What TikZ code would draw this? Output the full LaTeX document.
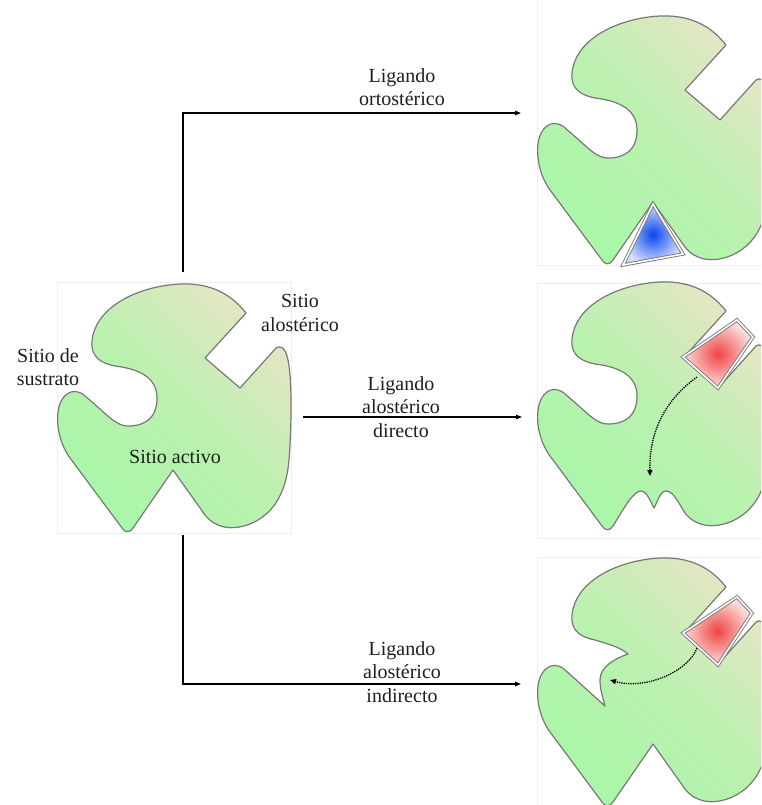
\documentclass[tikz,border=0pt]{standalone}
\usepackage{fontspec}
\setmainfont{Liberation Serif}
\usetikzlibrary{arrows.meta}

\definecolor{enzgreen}{HTML}{A9F7A9}
\definecolor{enzmid}{HTML}{BAF1AF}
\definecolor{enzbeige}{HTML}{E4E6C4}
\definecolor{outline}{HTML}{787878}
\definecolor{framegray}{HTML}{EEEEEE}
\definecolor{ligred}{HTML}{F04444}
\definecolor{ligblue}{HTML}{0A46F0}
\definecolor{ink}{HTML}{1E1E1E}

% Outline pieces of the enzyme, in pixel units (y grows downward)
\newcommand\enzLobeTop{(246,313) .. controls (228,290) and (205,283) .. (180,284)
  .. controls (140,286) and (100,305) .. (93,335)
  .. controls (89,352) and (95,362) .. (115,366)}
\newcommand\enzPocketOpen{.. controls (140,369) and (157,378) .. (157,398)
  .. controls (157,418) and (145,426) .. (128,426)
  .. controls (118,426) and (110,418) .. (100,409) -- (84,395)}
\newcommand\enzPocketPinched{.. controls (128,370) and (140,373) .. (148,380)
  .. controls (134,385) and (120,393) .. (120,406)
  .. controls (120,416) and (123,424) .. (125,432) -- (84,395)}
\newcommand\enzLeftLobe{.. controls (72,386) and (60,395) .. (58,412)
  .. controls (56,430) and (62,447) .. (70,458) -- (122,528)
  .. controls (125,533) and (130,533) .. (133,528)}
\newcommand\enzCleftOpen{-- (173,470) -- (205,515)}
\newcommand\enzCleftClosed{.. controls (143,512) and (153,493) .. (161,493)
  .. controls (167,493) and (171,505) .. (174,510)
  .. controls (177,505) and (180,493) .. (186,493)
  .. controls (194,493) and (200,508) .. (205,515)}
\newcommand\enzRightLobe{.. controls (215,528) and (232,531) .. (250,524)
  .. controls (272,515) and (286,495) .. (289,460)
  .. controls (292,420) and (292,372) .. (287,356)
  .. controls (285,348) and (280,345) .. (276,348)
  -- (240,388) -- (205,358) -- cycle}

\tikzset{
  enzyme/.style={draw=outline, line width=1.2pt, line join=round,
    top color=enzbeige, bottom color=enzgreen, middle color=enzmid, shading angle=-45},
  ligand/.style={draw=outline, line width=0.9pt, double=white, double distance=1.6pt,
    line join=miter, inner color=#1, outer color=#1!18},
  panel/.style={draw=framegray, line width=0.6pt},
  flow/.style={draw=black, line width=1.4pt, -{Triangle[length=6pt,width=4.5pt]}},
  signal/.style={draw=black, line width=1.3pt, densely dotted,
    -{Triangle[length=6pt,width=5pt]}},
  caption/.style={text=ink, font=\fontsize{20}{23.5}\selectfont, align=center,
    inner sep=0pt, execute at begin node=\strut},
}

\begin{document}
\begin{tikzpicture}[x=1pt, y=-1pt]
  \useasboundingbox (0,0) rectangle (761,805);
  \clip (0,0) rectangle (761,805);

  % faint panel frames
  \draw[panel] (57.5,282.7) rectangle (291.7,533);
  \draw[panel] (537,-5) rectangle (770,265);
  \draw[panel] (537,283) rectangle (770,538);
  \draw[panel] (537,557) rectangle (770,815);

  % free enzyme
  \path[enzyme] \enzLobeTop \enzPocketOpen \enzLeftLobe \enzCleftOpen \enzRightLobe;

  % orthosteric ligand bound in the active site
  \begin{scope}[shift={(480,-268)}]
    \path[enzyme] \enzLobeTop \enzPocketOpen \enzLeftLobe \enzCleftOpen \enzRightLobe;
  \end{scope}
  \path[ligand=ligblue] (653,204) -- (623,265) -- (683,254) -- cycle;

  % direct allosteric ligand: active site deformed
  \begin{scope}[shift={(480,-2)}]
    \path[enzyme] \enzLobeTop \enzPocketOpen \enzLeftLobe \enzCleftClosed \enzRightLobe;
  \end{scope}
  \path[ligand=ligred] (737,320) -- (753,337) -- (718,388) -- (683,357) -- cycle;

  % indirect allosteric ligand: substrate site deformed
  \begin{scope}[shift={(480,274)}]
    \path[enzyme] \enzLobeTop \enzPocketPinched \enzLeftLobe \enzCleftOpen \enzRightLobe;
  \end{scope}
  \path[ligand=ligred] (737,597) -- (752,613) -- (718,665) -- (683,633) -- cycle;

  % conformational signals
  \coordinate (dirFrom) at (697,377);
  \coordinate (dirTo) at (650,476);
  \draw[signal] (dirFrom) .. controls (665,400) and (649,432) .. (dirTo);
  \coordinate (indFrom) at (697,648);
  \coordinate (indTo) at (610,680);
  \draw[signal] (indFrom) .. controls (688,672) and (645,690) .. (indTo);

  % reaction arrows
  \coordinate (ortoFrom) at (183,272);
  \coordinate (ortoTo) at (521,113);
  \draw[flow] (ortoFrom) |- (ortoTo);
  \coordinate (dirArrFrom) at (303,417);
  \coordinate (dirArrTo) at (522,417);
  \draw[flow] (dirArrFrom) -- (dirArrTo);
  \coordinate (indArrFrom) at (183,535);
  \coordinate (indArrTo) at (521,684);
  \draw[flow] (indArrFrom) |- (indArrTo);

  % labels
  \node[caption, anchor=north] (lblOrto) at (402,68.2) {Ligando\\ortostérico};
  \node[caption, anchor=north] (lblDir) at (401,376.2) {Ligando\\alostérico\\directo};
  \node[caption, anchor=north] (lblInd) at (402,641.2) {Ligando\\alostérico\\indirecto};
  \node[caption, anchor=north] (lblSust) at (48,348.2) {Sitio de\\sustrato};
  \node[caption, anchor=north] (lblAlo) at (300,294.2) {Sitio\\alostérico};
  \node[caption, anchor=north] (lblAct) at (175,446.5) {Sitio activo};
\end{tikzpicture}
\end{document}
